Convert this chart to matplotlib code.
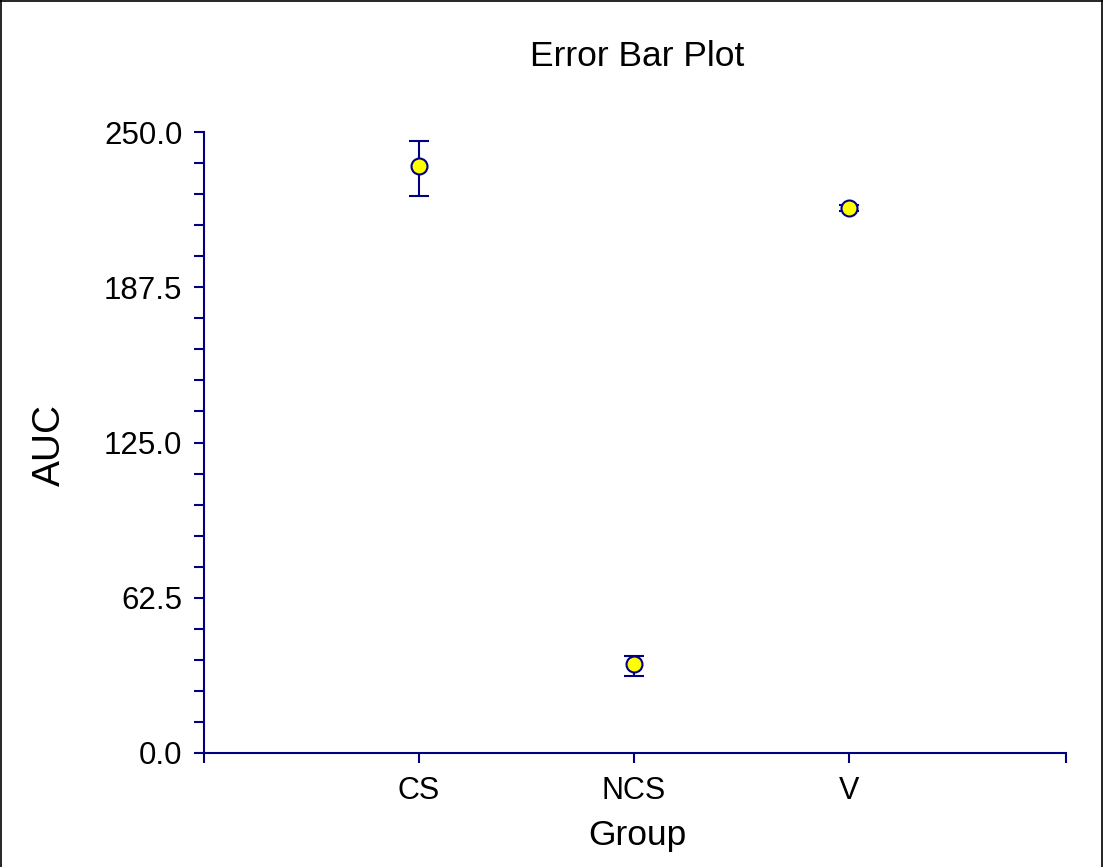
import matplotlib
matplotlib.use("Agg")
import matplotlib.pyplot as plt
from matplotlib import font_manager
from matplotlib.lines import Line2D
import numpy as np

groups = ["CS", "NCS", "V"]
means = [236.3, 35.8, 219.4]
err_low = [12.1, 4.8, 1.3]
err_high = [10.2, 3.4, 1.3]

names = {f.name for f in font_manager.fontManager.ttflist}
if "Liberation Sans Narrow" in names:
    narrow, title_fs, group_fs = "Liberation Sans Narrow", 29, 27
else:
    narrow, title_fs, group_fs = "Liberation Sans", 25.5, 25.5

plt.rcParams['font.family'] = ['Liberation Sans', 'DejaVu Sans']
navy = '#000080'

W, H = 1103, 867
fig = plt.figure(figsize=(W / 100, H / 100), dpi=100)
ax = fig.add_axes([204 / W, 1 - 753 / H, (1066 - 204) / W, (753 - 132) / H])

x = np.arange(1, len(groups) + 1)
ax.errorbar(x, means, yerr=[err_low, err_high], fmt='none', ecolor=navy,
            elinewidth=1.5, capsize=7, capthick=1.5, zorder=2)
ax.plot(x, means, 'o', ms=11.5, mfc='#FFFF00', mec=navy, mew=1.5, zorder=3,
        clip_on=False)

xmax = 4.012
ax.set_xlim(0, xmax)
ax.set_ylim(0, 250)
ax.set_xticks([0, 1, 2, 3, xmax])
ax.set_xticklabels([""] + groups + [""])
ax.set_yticks(np.arange(0, 250.1, 62.5))
ax.set_yticks(np.arange(0, 250.1, 12.5), minor=True)
ax.yaxis.set_major_formatter(matplotlib.ticker.FormatStrFormatter('%.1f'))

for s in ['top', 'right']:
    ax.spines[s].set_visible(False)
for s in ['left', 'bottom']:
    ax.spines[s].set_color(navy)
    ax.spines[s].set_linewidth(1.5)

ax.tick_params(axis='y', which='both', direction='out', length=7.5, width=1.5,
               color=navy, labelsize=22.5, pad=8)
ax.tick_params(axis='x', which='both', direction='out', length=7.5, width=1.5,
               color=navy, labelsize=22, pad=9)

fig.text(637 / W, 1 - 66 / H, "Error Bar Plot", ha='center', va='baseline',
         fontsize=title_fs, family=[narrow, 'DejaVu Sans'])
fig.text(637 / W, 1 - 845 / H, "Group", ha='center', va='baseline',
         fontsize=group_fs, family=[narrow, 'DejaVu Sans'])
fig.text(50 / W, 1 - 445 / H, "AUC", ha='center', va='center', rotation=90,
         fontsize=28)

# figure frame
for xs, ys in [([0.5 / W, 0.5 / W], [0, 1]), ([0, 1], [1 - 0.5 / H, 1 - 0.5 / H]),
               ([1 - 1.5 / W, 1 - 1.5 / W], [0, 1])]:
    fig.add_artist(Line2D(xs, ys, color='black', lw=1.2, transform=fig.transFigure))

fig.savefig("out.png", dpi=100)
